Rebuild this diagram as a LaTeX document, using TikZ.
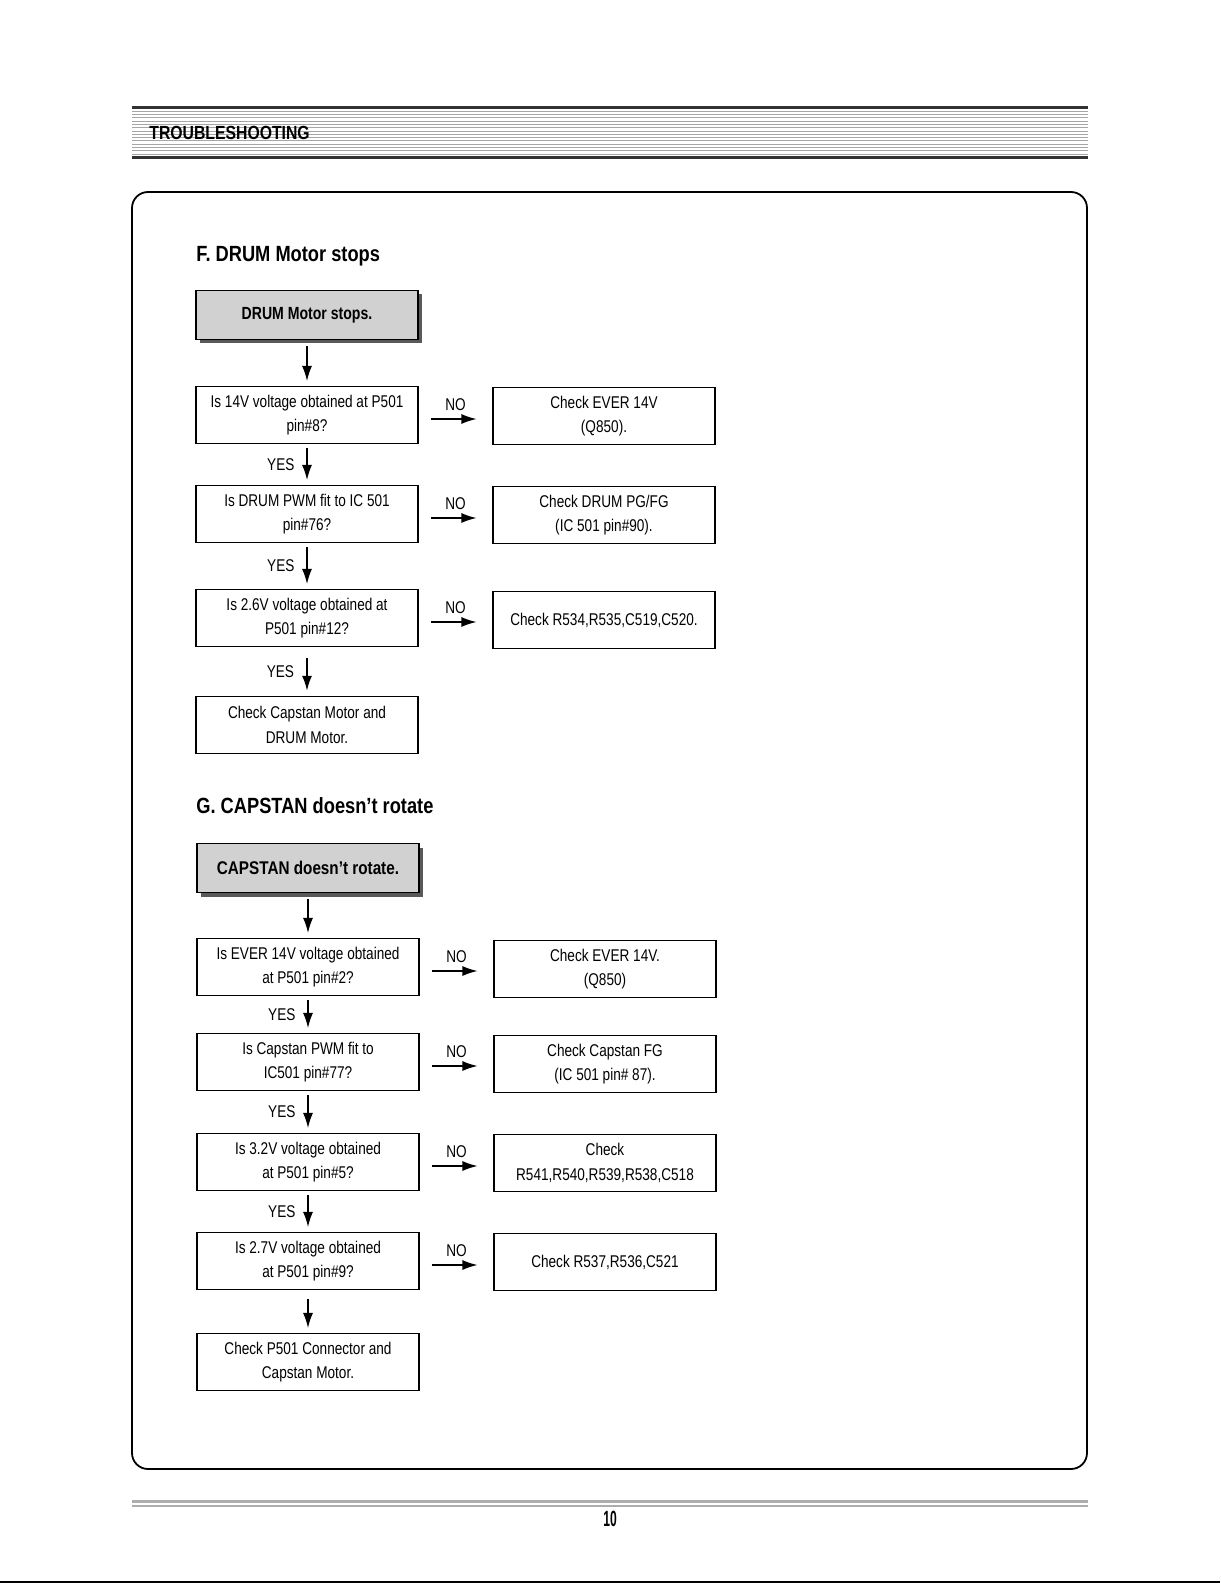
\documentclass[tikz,border=0pt]{standalone}
\usepackage{fontspec}
\setmainfont{Liberation Sans}
\newfontfamily\narrowfont[FakeStretch=0.8]{Liberation Sans}
\newfontfamily\headfont[FakeStretch=0.83]{Liberation Sans}
\newfontfamily\numfont[FakeStretch=0.55]{Liberation Sans}
\usepackage{tikz}
\usetikzlibrary{
  arrows.meta,%
  shadows,%
  positioning,
  calc
}
\tikzset{>={Latex[length=7.5pt,width=5pt]}}
\tikzset{
  qbox/.style={draw, line width=0.6pt, minimum width=111pt, minimum height=28.5pt,
    inner sep=0pt, align=center, font=\narrowfont\fontsize{8.5}{12.2}\selectfont},
  titlebox/.style={qbox, minimum height=24.5pt, fill=black!18,
    drop shadow={shadow xshift=2pt, shadow yshift=-2pt, fill=black!65, opacity=1}},
  lbl/.style={inner sep=0pt, font=\narrowfont\fontsize{8.5}{10}\selectfont},
  heading/.style={anchor=west, inner sep=0pt, font=\headfont\bfseries\fontsize{11}{13}\selectfont},
  arr/.style={->, line width=0.6pt, shorten <=2pt, shorten >=2.5pt},
  noarr/.style={arr, shorten <=6pt, shorten >=8pt},
}

\begin{document}
\begin{tikzpicture}[x=0.5pt, y=-0.5pt]
  \useasboundingbox (0,0) rectangle (1220,1583);

  % page header
  \foreach \i in {1,...,14}
  {
    \draw[black!35, line width=0.5pt] (132, 108+\i*3.3) -- (1088, 108+\i*3.3);
  }
  \draw[black!80, line width=1.5pt] (132,108) -- (1088,108);
  \draw[black!80, line width=1.5pt] (132,158) -- (1088,158);
  \node[anchor=west, inner sep=0pt, font=\headfont\bfseries\fontsize{9.5}{11}\selectfont]
    (header) at (149,133) {TROUBLESHOOTING};

  % frame
  \draw[line width=0.9pt, rounded corners=8pt] (132,192) rectangle (1087,1469);

  % F. DRUM Motor stops
  \node[heading] (titleF) at (196,256) {F. DRUM Motor stops};
  \node[titlebox, font=\narrowfont\bfseries\fontsize{8.8}{10}\selectfont]
    (drum) at (307,315) {DRUM Motor stops.};
  \node[qbox] (q1) at (307,415) {Is 14V voltage obtained at P501\\pin\#8?};
  \node[qbox] (q2) at (307,514) {Is DRUM PWM fit to IC 501\\pin\#76?};
  \node[qbox] (q3) at (307,618) {Is 2.6V voltage obtained at\\P501 pin\#12?};
  \node[qbox] (q4) at (307,725) {Check Capstan Motor and\\DRUM Motor.};
  \node[qbox] (r1) at (604,416) {Check EVER 14V\\(Q850).};
  \node[qbox] (r2) at (604,515) {Check DRUM PG/FG\\(IC 501 pin\#90).};
  \node[qbox] (r3) at (604,620) {Check R534,R535,C519,C520.};

  \draw[arr, shorten <=3pt] (drum.south) -- (q1.north);
  \foreach \a/\b in {q1/q2, q2/q3}
  {
    \draw[arr] (\a.south) -- node[lbl, left=6pt] {YES} (\b.north);
  }
  \draw[arr, line width=1pt, shorten <=5.5pt] (q3.south) -- node[lbl, left=6pt] {YES} (q4.north);
  \foreach \a/\b in {q1/r1, q2/r2, q3/r3}
  {
    \draw[noarr] ([yshift=-2pt]\a.east) -- node[lbl, above=4pt] {NO}
      ([yshift=-2pt]\a.east -| \b.west);
  }

  % G. CAPSTAN doesn't rotate
  \node[heading] (titleG) at (196,806) {G. CAPSTAN doesn’t rotate};
  \node[titlebox, font=\headfont\bfseries\fontsize{9.2}{10}\selectfont]
    (capstan) at (308,868) {CAPSTAN doesn’t rotate.};
  \node[qbox] (c1) at (308,967) {Is EVER 14V voltage obtained\\at P501 pin\#2?};
  \node[qbox] (c2) at (308,1062) {Is Capstan PWM fit to\\IC501 pin\#77?};
  \node[qbox] (c3) at (308,1162) {Is 3.2V voltage obtained\\at P501 pin\#5?};
  \node[qbox] (c4) at (308,1261) {Is 2.7V voltage obtained\\at P501 pin\#9?};
  \node[qbox] (c5) at (308,1362) {Check P501 Connector and\\Capstan Motor.};
  \node[qbox] (s1) at (605,969) {Check EVER 14V.\\(Q850)};
  \node[qbox] (s2) at (605,1064) {Check Capstan FG\\(IC 501 pin\# 87).};
  \node[qbox] (s3) at (605,1163) {Check\\R541,R540,R539,R538,C518};
  \node[qbox] (s4) at (605,1262) {Check R537,R536,C521};

  \draw[arr, shorten <=3pt] (capstan.south) -- (c1.north);
  \foreach \a/\b in {c1/c2, c2/c3, c3/c4}
  {
    \draw[arr] (\a.south) -- node[lbl, left=6pt] {YES} (\b.north);
  }
  \draw[arr, shorten <=4.5pt] (c4.south) -- (c5.north);
  \foreach \a/\b in {c1/s1, c2/s2, c3/s3, c4/s4}
  {
    \draw[noarr] ([yshift=-2pt]\a.east) -- node[lbl, above=4pt] {NO}
      ([yshift=-2pt]\a.east -| \b.west);
  }

  % page footer
  \draw[black!32, line width=1.5pt] (132,1501) -- (1088,1501);
  \draw[black!32, line width=1pt] (132,1505.5) -- (1088,1505.5);
  \node[inner sep=0pt, font=\numfont\bfseries\fontsize{11}{12}\selectfont] (page) at (610,1519) {10};
  \draw[line width=1pt] (0,1582) -- (1220,1582);
\end{tikzpicture}
\end{document}
